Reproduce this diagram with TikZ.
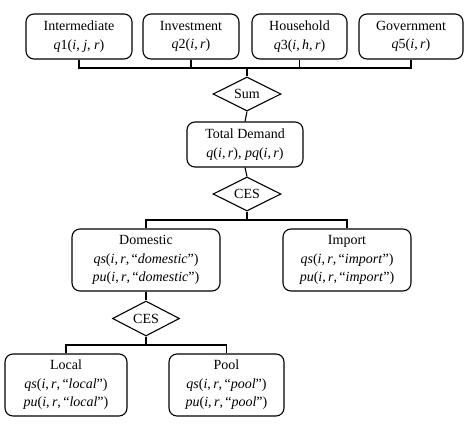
\documentclass[tikz,border=0pt]{standalone}
\usepackage{fontspec}
\setmainfont{Liberation Serif}
\usetikzlibrary{shapes.geometric}
\tikzset{
	box/.style={draw,rounded corners=8pt,align=center,inner sep=0pt},
	choice/.style={draw,diamond,shape aspect=2,inner sep=0pt,minimum width=68pt,minimum height=34pt}
}
\newcommand{\iv}[1]{\textit{#1}}

\begin{document}
\begin{tikzpicture}[x=1pt,y=-1pt,line width=1.1pt,font=\fontsize{14}{18.5}\selectfont]
	\useasboundingbox (0,0) rectangle (471,426);

	\node[box,minimum width=106pt,minimum height=45pt] (inter) at (79,36.5) {Intermediate\\\iv{q}1(\iv{i}, \iv{j}, \iv{r})};
	\node[box,minimum width=96pt,minimum height=45pt] (invest) at (191,36.5) {Investment\\\iv{q}2(\iv{i},\,\iv{r})};
	\node[box,minimum width=95pt,minimum height=45pt] (house) at (299.5,36.5) {Household\\\iv{q}3(\iv{i},\,\iv{h},\,\iv{r})};
	\node[box,minimum width=104pt,minimum height=45pt] (govt) at (411,36.5) {Government\\\iv{q}5(\iv{i},\,\iv{r})};
	\coordinate (bus) at (247,68);

	\node[choice] (sum) at (247,94) {Sum};
	\node[box,minimum width=116pt,minimum height=45pt] (total) at (245,144.5) {Total Demand\\\iv{q}(\iv{i},\,\iv{r}), \iv{pq}(\iv{i},\,\iv{r})};
	\node[choice] (ces) at (247,194) {CES};
	\coordinate (split) at (247,220);

	\node[box,minimum width=148pt,minimum height=62pt] (dom) at (146,260) {Domestic\\\iv{qs}(\iv{i},\,\iv{r},\,“\iv{domestic}”)\\\iv{pu}(\iv{i},\,\iv{r},\,“\iv{domestic}”)};
	\node[box,minimum width=128pt,minimum height=62pt] (imp) at (347,260) {Import\\\iv{qs}(\iv{i},\,\iv{r},\,“\iv{import}”)\\\iv{pu}(\iv{i},\,\iv{r},\,“\iv{import}”)};
	\node[choice,minimum width=67pt,minimum height=35pt] (ces2) at (146,318.5) {CES};
	\coordinate (split2) at (146,345);

	\node[box,minimum width=122pt,minimum height=62pt] (local) at (66,385) {Local\\\iv{qs}(\iv{i},\,\iv{r},\,“\iv{local}”)\\\iv{pu}(\iv{i},\,\iv{r},\,“\iv{local}”)};
	\node[box,minimum width=115pt,minimum height=62pt] (pool) at (226.5,385) {Pool\\\iv{qs}(\iv{i},\,\iv{r},\,“\iv{pool}”)\\\iv{pu}(\iv{i},\,\iv{r},\,“\iv{pool}”)};

	\draw (inter.south) |- (bus) -| (govt.south);
	\draw (invest.south) -- (invest.south |- bus);
	\draw (house.south) -- (house.south |- bus);
	\draw (bus) -- (sum.north);
	\draw (sum.south) -- (total.north);
	\draw (total.south) -- (ces.north);
	\draw (ces.south) -- (split);
	\draw (dom.north) |- (split) -| (imp.north);
	\draw (dom.south) -- (ces2.north);
	\draw (ces2.south) -- (split2);
	\draw (local.north) |- (split2) -| (pool.north);
\end{tikzpicture}
\end{document}
